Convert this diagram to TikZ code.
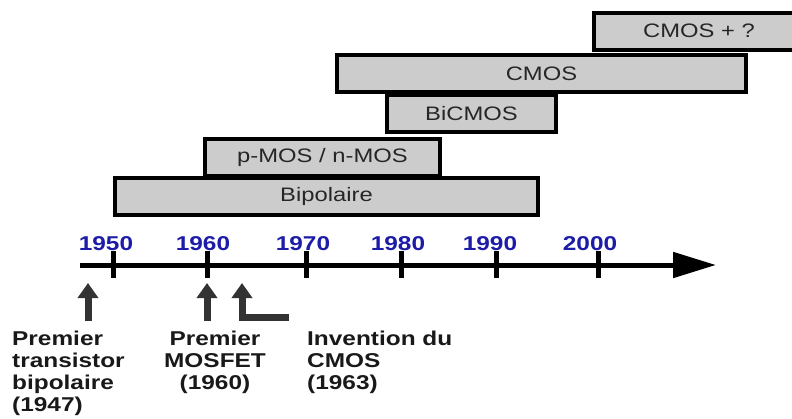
\documentclass[tikz,border=0pt]{standalone}
\usepackage{fontspec}
\setmainfont{Liberation Sans}[FakeStretch=1.22]
\usetikzlibrary{arrows.meta}
\definecolor{boxgray}{HTML}{CCCCCC}
\definecolor{yearblue}{HTML}{1C1CA8}
\definecolor{arrgray}{HTML}{333333}
\tikzset{
  techbox/.style={draw=black, line width=4pt, fill=boxgray, inner sep=0pt,
    font=\fontsize{19.5}{22}\selectfont, text=black!85},
  yearlbl/.style={font=\bfseries\fontsize{20}{22}\selectfont, text=yearblue, inner sep=0pt},
  tickmark/.style={line width=5pt},
  uparrow/.style={draw=arrgray, line width=7pt, -{Triangle[length=15pt,width=20pt]}},
  eventlbl/.style={font=\bfseries\fontsize{20}{22}\selectfont, text=black!90, inner sep=0pt}
}
\begin{document}
\begin{tikzpicture}[x=1pt,y=-1pt]
\useasboundingbox (0,0) rectangle (792,418);
\clip (0,0) rectangle (792,418);
% technology boxes
\node[techbox, minimum width=210pt, minimum height=37pt] (cmosplus) at (699,31) {CMOS + ?};
\node[techbox, minimum width=409pt, minimum height=37pt] (cmos) at (541.5,73.5) {CMOS};
\node[techbox, minimum width=169pt, minimum height=37pt] (bicmos) at (471.5,113.5) {BiCMOS};
\node[techbox, minimum width=235pt, minimum height=37pt] (pnmos) at (322.5,157.5) {p-MOS / n-MOS};
\node[techbox, minimum width=423pt, minimum height=37pt] (bipol) at (326.5,196.5) {Bipolaire};
% axis
\coordinate (axstart) at (80,265);
\coordinate (axend) at (716,265);
\draw[line width=5pt, -{Triangle[length=43pt,width=25pt]}] (axstart) -- (axend);
% ticks and years
\foreach \yr/\px/\lx in {1950/113/106,1960/207/203,1970/306/303,1980/401/398,1990/496/490,2000/598/590}{
  \coordinate (t\yr top) at (\px,251);
  \coordinate (t\yr bot) at (\px,278);
  \draw[tickmark] (t\yr top) -- (t\yr bot);
  \node[yearlbl] (y\yr) at (\lx,243.5) {\yr};
}
% event arrows
\coordinate (a1s) at (88,321);
\coordinate (a1e) at (88,283);
\draw[uparrow] (a1s) -- (a1e);
\coordinate (a2s) at (207,321);
\coordinate (a2e) at (207,283);
\draw[uparrow] (a2s) -- (a2e);
\coordinate (a3s) at (289,317);
\coordinate (a3c) at (242,317);
\coordinate (a3e) at (242,283);
\draw[uparrow] (a3s) -- (a3c) -- (a3e);
% event labels
\node[eventlbl, anchor=north west, align=left] (ev1) at (12,331) {Premier\\transistor\\bipolaire\\(1947)};
\node[eventlbl, anchor=north, align=center] (ev2) at (215,331) {Premier\\MOSFET\\(1960)};
\node[eventlbl, anchor=north west, align=left] (ev3) at (307,331) {Invention du\\CMOS\\(1963)};
\end{tikzpicture}
\end{document}
